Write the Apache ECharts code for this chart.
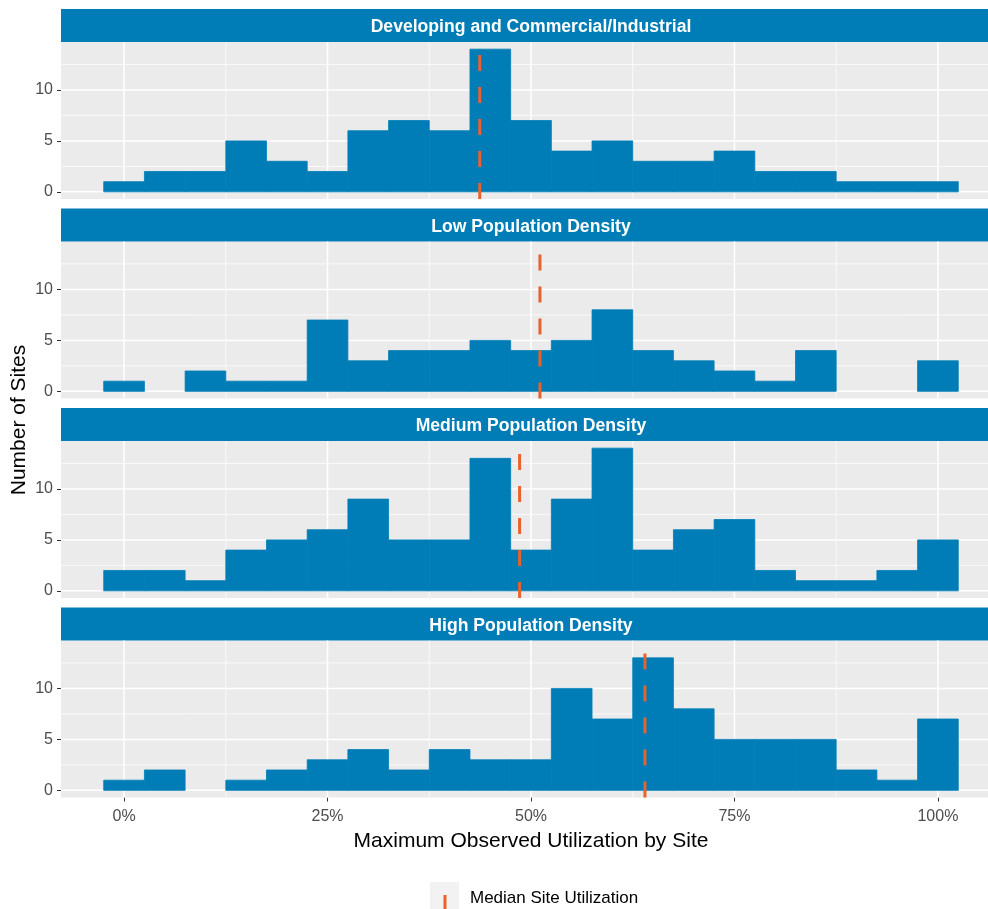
<!DOCTYPE html>
<html>
<head>
<meta charset="utf-8">
<script src="https://cdn.jsdelivr.net/npm/echarts@6/dist/echarts.min.js"></script>
<style>
html, body { margin: 0; padding: 0; background: #fff; }
#main { width: 988px; height: 909px; }
</style>
</head>
<body>
<div id="main"></div>
<script>
// facet names, top to bottom
const panelNames = [
  'Developing and Commercial/Industrial',
  'Low Population Density',
  'Medium Population Density',
  'High Population Density'
];
// histogram bins (left edge, % utilization), 5% wide
const binStarts = [-2.5, 2.5, 7.5, 12.5, 17.5, 22.5, 27.5, 32.5, 37.5, 42.5, 47.5,
                   52.5, 57.5, 62.5, 67.5, 72.5, 77.5, 82.5, 87.5, 92.5, 97.5];
const binWidth = 5;
// number of sites per bin
const developing    = [1, 2, 2, 5, 3, 2, 6, 7, 6, 14, 7, 4, 5, 3, 3, 4, 2, 2, 1, 1, 1];
const lowDensity    = [1, 0, 2, 1, 1, 7, 3, 4, 4, 5, 4, 5, 8, 4, 3, 2, 1, 4, 0, 0, 3];
const mediumDensity = [2, 2, 1, 4, 5, 6, 9, 5, 5, 13, 4, 9, 14, 4, 6, 7, 2, 1, 1, 2, 5];
const highDensity   = [1, 2, 0, 1, 2, 3, 4, 2, 4, 3, 3, 10, 7, 13, 8, 5, 5, 5, 2, 1, 7];
// median site utilization per facet (%)
const medians = [43.7, 51.1, 48.6, 64.0];
// axis ticks
const xTicks = [0, 25, 50, 75, 100];
const xMinor = [12.5, 37.5, 62.5, 87.5];
const yTicks = [0, 5, 10];
const yMinor = [2.5, 7.5, 12.5];

const countsByPanel = [developing, lowDensity, mediumDensity, highDensity];

const X_MIN = -7.75, X_MAX = 107.75, Y_MIN = -0.7, Y_MAX = 14.7;
const BLUE = '#007DB6', ORANGE = '#E9612B';
const gridLeft = 61, gridWidth = 940;
const stripTop0 = 9, panelStep = 199.5, stripH = 33, plotH = 157;

const chart = echarts.init(document.getElementById('main'));

const grids = [], xAxes = [], yAxes = [], series = [], graphics = [];

// gridline items: [value, kind] kind 0/1 = vertical major/minor, 2/3 = horizontal major/minor
const gridItems = []
  .concat(xTicks.map(v => [v, 0]))
  .concat(xMinor.map(v => [v, 1]))
  .concat(yTicks.map(v => [v, 2]))
  .concat(yMinor.map(v => [v, 3]));

panelNames.forEach((name, i) => {
  const stripTop = stripTop0 + panelStep * i;
  const isLast = i === panelNames.length - 1;

  grids.push({
    left: gridLeft, top: stripTop + stripH, width: gridWidth, height: plotH,
    show: true, backgroundColor: '#EBEBEB', borderWidth: 0,
    containLabel: false, outerBoundsMode: 'none'
  });

  xAxes.push({
    type: 'value', gridIndex: i, min: X_MIN, max: X_MAX,
    axisLine: { show: false, onZero: false },
    splitLine: { show: false },
    axisTick: { show: isLast, customValues: xTicks, length: 4, lineStyle: { color: '#333', width: 1 } },
    axisLabel: {
      show: isLast, customValues: xTicks, margin: 11,
      color: '#4D4D4D', fontSize: 16, fontFamily: 'Liberation Sans, Arial, sans-serif',
      formatter: v => v + '%'
    }
  });

  yAxes.push({
    type: 'value', gridIndex: i, min: Y_MIN, max: Y_MAX,
    axisLine: { show: false, onZero: false },
    splitLine: { show: false },
    axisTick: { show: true, customValues: yTicks, length: 4, lineStyle: { color: '#333', width: 1 } },
    axisLabel: {
      customValues: yTicks, margin: 8,
      color: '#4D4D4D', fontSize: 16, fontFamily: 'Liberation Sans, Arial, sans-serif'
    }
  });

  // white gridlines
  series.push({
    type: 'custom', xAxisIndex: i, yAxisIndex: i, z: 1, silent: true,
    data: gridItems,
    renderItem: (params, api) => {
      const v = api.value(0), kind = api.value(1);
      let a, b;
      if (kind < 2) { a = api.coord([v, Y_MIN]); b = api.coord([v, Y_MAX]); }
      else { a = api.coord([X_MIN, v]); b = api.coord([X_MAX, v]); }
      return {
        type: 'line',
        shape: { x1: a[0], y1: a[1], x2: b[0], y2: b[1] },
        style: { stroke: '#FFFFFF', lineWidth: kind % 2 === 0 ? 1.5 : 0.75 }
      };
    }
  });

  // histogram bars
  series.push({
    type: 'custom', xAxisIndex: i, yAxisIndex: i, z: 2, silent: true,
    data: binStarts.map((s, k) => [s, countsByPanel[i][k]]),
    renderItem: (params, api) => {
      const start = api.value(0), count = api.value(1);
      if (!count) return null;
      const p0 = api.coord([start, 0]);
      const p1 = api.coord([start + binWidth, count]);
      return {
        type: 'rect',
        shape: { x: p0[0], y: p1[1], width: p1[0] - p0[0], height: p0[1] - p1[1] },
        style: { fill: BLUE, stroke: BLUE, lineWidth: 0.8 }
      };
    }
  });

  // median dashed line
  series.push({
    type: 'line', xAxisIndex: i, yAxisIndex: i, z: 3, silent: true,
    symbol: 'none', animation: false,
    data: [[medians[i], Y_MIN], [medians[i], Y_MAX]],
    lineStyle: { color: ORANGE, width: 3, type: [16, 16] }
  });

  // facet strip
  graphics.push({
    type: 'rect', left: gridLeft, top: stripTop,
    shape: { width: gridWidth, height: stripH },
    style: { fill: BLUE }
  });
  graphics.push({
    type: 'text', x: gridLeft + gridWidth / 2, y: stripTop + stripH / 2 + 2,
    style: {
      text: name, fill: '#FFFFFF', font: 'bold 17.6px "Liberation Sans", Arial, sans-serif',
      align: 'center', verticalAlign: 'middle'
    }
  });
});

// axis titles
graphics.push({
  type: 'text', x: gridLeft + gridWidth / 2, y: 841,
  style: {
    text: 'Maximum Observed Utilization by Site', fill: '#000',
    font: '21px "Liberation Sans", Arial, sans-serif', align: 'center', verticalAlign: 'middle'
  }
});
graphics.push({
  type: 'text', x: 19, y: 420, rotation: Math.PI / 2,
  style: {
    text: 'Number of Sites', fill: '#000',
    font: '21px "Liberation Sans", Arial, sans-serif', align: 'center', verticalAlign: 'middle'
  }
});

// legend
graphics.push({
  type: 'rect', left: 430, top: 882, shape: { width: 29, height: 29 },
  style: { fill: '#F2F2F2' }
});
graphics.push({
  type: 'line', shape: { x1: 445, y1: 911, x2: 445, y2: 882 },
  style: { stroke: ORANGE, lineWidth: 3, lineDash: [16, 16] }
});
graphics.push({
  type: 'text', x: 470, y: 898,
  style: {
    text: 'Median Site Utilization', fill: '#000',
    font: '17px "Liberation Sans", Arial, sans-serif', align: 'left', verticalAlign: 'middle'
  }
});

chart.setOption({
  animation: false,
  backgroundColor: '#FFFFFF',
  grid: grids,
  xAxis: xAxes,
  yAxis: yAxes,
  series: series,
  graphic: graphics
});
</script>
</body>
</html>
